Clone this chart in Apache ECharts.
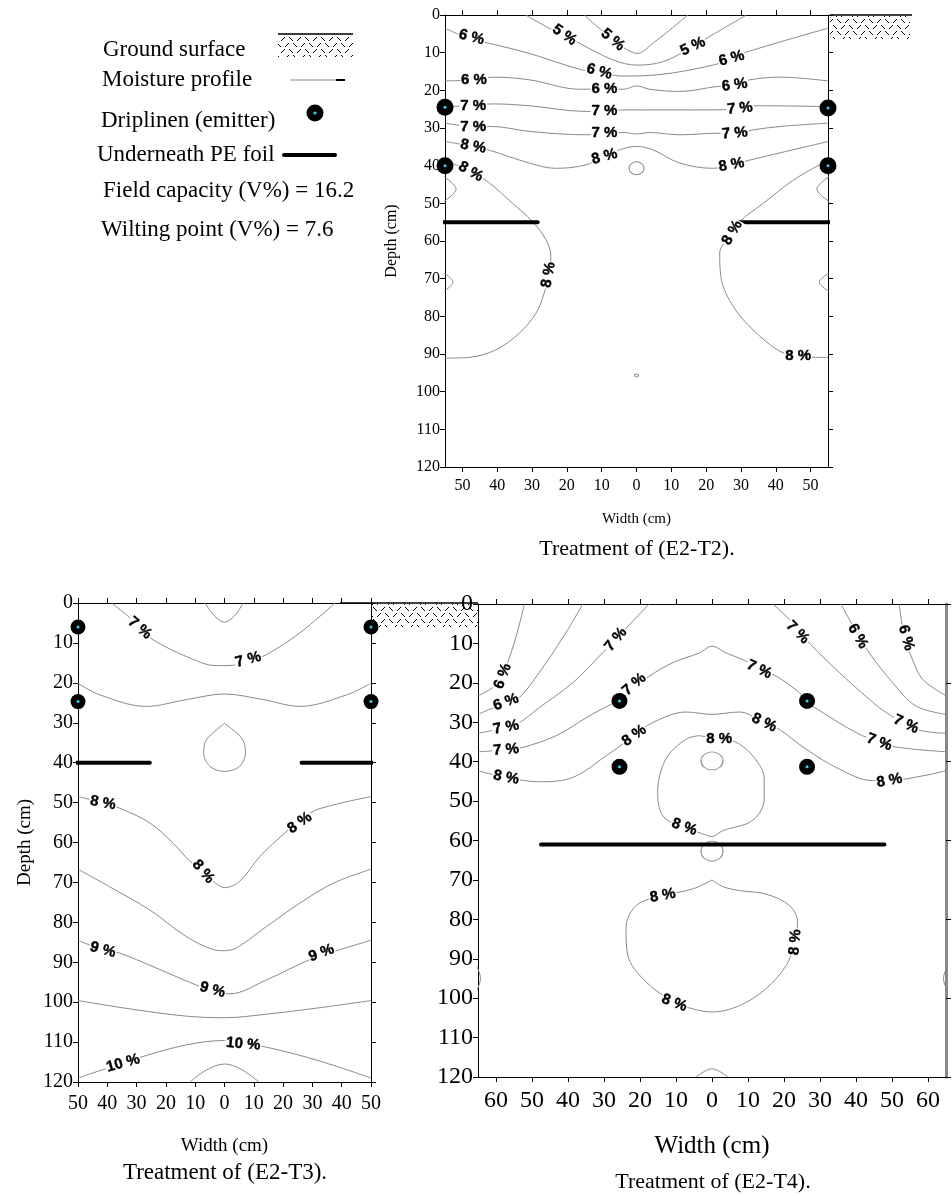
<!DOCTYPE html>
<html>
<head>
<meta charset="utf-8">
<script src="https://cdn.jsdelivr.net/npm/echarts@6/dist/echarts.min.js"></script>
<style>
  html, body { margin: 0; padding: 0; background: #fff; }
  #chart { width: 952px; height: 1196px; }
</style>
</head>
<body>
<div id="chart"></div>
<script>
// depth / width ticks
var depthTicks = [0, 10, 20, 30, 40, 50, 60, 70, 80, 90, 100, 110, 120];
var t2WidthTicks = [-50, -40, -30, -20, -10, 0, 10, 20, 30, 40, 50];
var t3WidthTicks = [-50, -40, -30, -20, -10, 0, 10, 20, 30, 40, 50];
var t4WidthTicks = [-60, -50, -40, -30, -20, -10, 0, 10, 20, 30, 40, 50, 60];

// ---- E2-T2 : moisture contours [width, depth]
var t2Lines = [
  [[-31.8, 0], [-25.1, 3.5], [-20.7, 5.3], [-16.4, 7.5], [-6.8, 11.9], [0, 13.3], [7.6, 12.4], [16.2, 8.4], [21.0, 5.7], [31.6, 0]],
  [[-15, 0], [-6.8, 6.6], [-2.5, 9.3], [0.2, 10.2], [4.7, 7.5], [14.8, 0]],
  [[-55, 3.5], [-47.4, 6.5], [-42.4, 7.5], [-30.8, 10.2], [-15.5, 14.6], [-10.7, 15.0], [-4.9, 16.2], [5.7, 15.9], [22.0, 13.3], [27.3, 11.5], [32.1, 9.7], [55, 3.5]],
  [[-55, 17.5], [-46.7, 17.2], [-41.4, 16.5], [-30.8, 17.2], [-16.4, 19.7], [-9.2, 19.7], [-3.5, 19.7], [0, 18.8], [3.7, 19.7], [12.4, 20.3], [23.0, 19.0], [28.2, 18.6], [32.6, 17.2], [41.2, 16.5], [55, 17.5]],
  [[-55, 24.3], [-46.9, 24.1], [-41.4, 23.6], [-30.8, 24.1], [-14.5, 25.6], [-9.2, 25.5], [-3.9, 25.2], [22.0, 25.2], [29.7, 24.8], [34.5, 24.1], [55, 24.3]],
  [[-55, 28.7], [-46.9, 29.6], [-41.4, 29.6], [-30.8, 30.9], [-14.5, 31.8], [-9.2, 31.4], [-3.5, 31.2], [0, 31.6], [3.7, 31.2], [12.4, 31.8], [23.0, 31.4], [28.2, 31.4], [33.5, 30.5], [41.2, 29.6], [55, 28.7]],
  [[-55, 33.6], [-46.9, 34.9], [-41.9, 36.0], [-30.8, 39.3], [-23.2, 40.7], [-14.5, 39.8], [-9.5, 37.6], [-4.9, 35.8], [0, 34.9], [4.7, 35.8], [12.4, 39.3], [22.0, 40.7], [27.3, 39.8], [32.6, 38.5], [55, 33.6]],
  [[-55, 38.5], [-47.6, 41.6], [-42.8, 44.2], [-35.6, 50.0], [-29.9, 54.8], [-26.0, 59.7], [-24.6, 64.1], [-25.3, 69.0], [-26.5, 73.8], [-28.9, 79.2], [-33.7, 84.5], [-40.4, 88.9], [-48.1, 90.9], [-55, 91.1]],
  [[55, 38.5], [45.1, 43.8], [36.4, 50.0], [29.7, 54.8], [26.5, 59.0], [23.9, 63.2], [24.4, 70.3], [27.8, 77.4], [33.5, 83.6], [41.2, 89.3], [46.4, 90.5], [50.8, 90.9], [55, 90.9]],
  [[-55.3, 42.9], [-51.8, 46.2], [-55.3, 49.5]],
  [[55.3, 42.9], [51.8, 46.2], [55.3, 49.5]],
  [[-55.3, 68.5], [-52.7, 70.9], [-55.3, 73.4]],
  [[55.3, 68.5], [52.5, 70.9], [55.3, 73.4]]
];
var t2Labels = [
  [-47.4, 5.9, '6 %', -15], [-20.7, 5.3, '5 %', -35], [-6.8, 6.6, '5 %', -40], [16.2, 8.4, '5 %', 25],
  [-10.7, 15.0, '6 %', -15], [27.3, 11.5, '6 %', 15],
  [-46.7, 17.1, '6 %', 0], [-9.2, 19.7, '6 %', 0], [28.2, 18.6, '6 %', 8],
  [-46.9, 24.1, '7 %', 0], [-9.2, 25.5, '7 %', 0], [29.7, 24.8, '7 %', 5],
  [-46.9, 29.6, '7 %', 0], [-9.2, 31.4, '7 %', 0], [28.2, 31.4, '7 %', 5],
  [-46.9, 34.9, '8 %', -10], [-9.2, 37.6, '8 %', 15], [27.3, 39.8, '8 %', 10],
  [-47.6, 41.6, '8 %', -30], [-25.3, 69.0, '8 %', 80], [27.5, 57.8, '8 %', 60], [46.4, 90.5, '8 %', 0]
];
var t2Loops = [[0, 40.7], [0, 95.7]];
var t2LoopSize = [[15, 13], [4, 3]];
var t2Emitters = [[-55, 24.5], [-55, 40], [55, 24.7], [55, 40]];
var t2Foil = [[[-81, 55], [-28.4, 55]], [[29, 55], [89.6, 55]]];

// ---- E2-T3
var t3Lines = [
  [[-38.6, 0], [-32.9, 3.3], [-28.9, 6.3], [-24.4, 9.2], [-13, 13.4], [-2.7, 15.7], [3, 15.6], [8.1, 14.6], [14.4, 12.9], [25.7, 7.5], [37.7, 0]],
  [[-6.7, 0], [-3.3, 3.3], [0, 4.8], [3.3, 3.3], [6.4, 0]],
  [[-50, 20.1], [-42.6, 23], [-26.7, 25.9], [-13, 24.2], [0, 22.8], [13.2, 24.2], [25.7, 25.9], [41.7, 23], [50, 20.1]],
  [[0, 30.2], [-6.2, 34.3], [-7.1, 37.6], [-5, 40.9], [0, 42.2], [5.2, 40.9], [7.2, 37.4], [5.8, 33.8], [0, 30.2]],
  [[-50, 48.5], [-41.5, 50.1], [-35.8, 51.4], [-25.5, 55.1], [-17.5, 60.2], [-11.8, 64.7], [-7.3, 67.3], [-3, 70.2], [0, 71.3], [5.2, 69.7], [12.1, 63.5], [20.6, 57.6], [25.7, 54.6], [31.4, 51.8], [50, 48.5]],
  [[-50, 66.7], [-39.2, 71.1], [-25.5, 76.9], [-13, 83.6], [-3.9, 86.8], [0, 87.1], [4.1, 86.4], [14.4, 81], [25.7, 75.2], [37.1, 70.2], [50, 66.7]],
  [[-50, 84.5], [-41.5, 86.9], [-35.8, 87.7], [-24.4, 91.1], [-9.6, 95.7], [-4.1, 96.9], [1.8, 97.9], [14.4, 94.4], [29.2, 89.3], [38.3, 87.1], [50, 84.5]],
  [[-50, 99.6], [-31.2, 101.8], [-13, 103.5], [0, 103.9], [14.4, 103], [31.4, 101.5], [50, 99.6]],
  [[-50, 119], [-40.3, 116.6], [-27.8, 113.6], [-13, 110.7], [0, 109.6], [13.2, 111.1], [31.4, 114.5], [50, 119]],
  [[-11.8, 120], [-6.2, 117], [0, 115.5], [5.2, 116.6], [11.8, 120]]
];
var t3Labels = [
  [-28.9, 6.3, '7 %', -40], [8.1, 14.2, '7 %', 15],
  [-41.5, 50.1, '8 %', -10], [-7.3, 67.3, '8 %', -50], [25.7, 55.1, '8 %', 35],
  [-41.5, 86.9, '9 %', -15], [-4.1, 96.9, '9 %', -15], [33.1, 87.7, '9 %', 20],
  [-34.6, 115.3, '10 %', 15], [6.4, 110.5, '10 %', -5]
];
var t3Emitters = [[-50, 6], [-50, 24.7], [50, 6], [50, 24.7]];
var t3Foil = [[[-74, 40], [-25.5, 40]], [[26.3, 40], [74.1, 40]]];

// ---- E2-T4
var t4Lines = [
  [[-52.1, 0], [-54.4, 8.2], [-56.8, 14.9], [-58.5, 18.5], [-60.9, 21.2], [-65, 23.3]],
  [[-35.9, 0], [-40.6, 7.3], [-48, 17.4], [-54, 24.2], [-57.2, 25.0], [-65, 28.0]],
  [[-17.4, 0], [-22.5, 4.8], [-26.7, 9.0], [-30.4, 12.4], [-38.7, 20.0], [-48, 26.3], [-53.5, 30.1], [-57.2, 31.3], [-65, 32.8]],
  [[-65, 37.5], [-57.2, 37.0], [-52.6, 36.4], [-43.3, 33.4], [-34.1, 28.4], [-25.7, 24.2], [-21.1, 21.2], [-17.4, 18.3], [-10.9, 14.9], [-3.5, 12.4], [0, 10.7], [3.9, 12.4], [9.4, 14.5], [13.1, 16.6], [17.8, 18.3], [24.3, 22.5], [26.1, 24.6], [30.7, 27.5], [40, 32.6], [46.5, 35.1], [52, 36.4], [65, 37.5]],
  [[16.9, 0], [22.4, 4.8], [27, 9.9], [35.4, 17.4], [43.7, 24.2], [48.3, 27.5], [53.9, 30.5], [58.5, 32.2], [65, 32.8]],
  [[35.8, 0], [40, 6.9], [43.7, 12.4], [50.2, 20.0], [56.7, 25.9], [65, 28.0]],
  [[52, 0], [53.4, 8.2], [55.7, 14.1], [58.5, 19.1], [65, 23.3]],
  [[-65, 42.3], [-57.2, 44.0], [-48, 45.1], [-38.7, 44.0], [-29.4, 38.5], [-21.6, 33.4], [-16.5, 30.1], [-7.2, 27.4], [0, 28.0], [7.6, 27.4], [14.5, 30.1], [18.7, 31.8], [26.1, 36.8], [35.4, 41.9], [44.6, 44.8], [49.3, 44.8], [58.5, 43.6], [65, 42.3]],
  [[-3.5, 33.4], [-7.2, 34.3], [-12.8, 39.3], [-15.1, 47.8], [-13.7, 53.7], [-9.1, 56.2], [-2.6, 58.3], [0, 59.0], [3, 57.5], [11.3, 54.9], [14.5, 49.5], [14.5, 44.4], [11.3, 38.5], [5.7, 34.7], [2.0, 34.3], [-3.5, 33.4]],
  [[0, 70], [-5.4, 72.3], [-13.7, 74.0], [-21.1, 76.5], [-23.9, 82.4], [-23.4, 89.1], [-18.3, 95.9], [-10.5, 101.0], [-5.4, 102.7], [0, 103.5], [7.6, 101.9], [15, 97.6], [20.6, 91.7], [22.4, 87.5], [23.8, 80.8], [21.5, 76.5], [15, 73.6], [7.6, 72.7], [3, 71.7], [0, 70]],
  [[-4.4, 120], [0, 117.9], [4.4, 120]],
  [[-65.3, 92], [-64.3, 95], [-65.3, 98]],
  [[65.3, 92], [64.3, 95], [65.3, 98]]
];
var t4Labels = [
  [-58.1, 18.3, '6 %', 70], [-57.2, 24.9, '6 %', 20], [-26.7, 9.0, '7 %', 50], [-57.2, 31.3, '7 %', 10],
  [-21.6, 20.4, '7 %', 40], [-57.2, 37.0, '7 %', 5], [-21.6, 33.4, '8 %', 35], [-57.2, 44.0, '8 %', -10],
  [2.0, 34.3, '8 %', 0], [-7.7, 56.6, '8 %', -20], [23.8, 7.2, '7 %', -45], [40.5, 8.2, '6 %', -60],
  [53.9, 8.6, '6 %', -75], [13.1, 16.6, '7 %', -25], [14.5, 30.1, '8 %', -25], [46.5, 35.1, '7 %', -20],
  [53.9, 30.5, '7 %', -25], [49.3, 44.8, '8 %', 10],
  [-13.7, 74.0, '8 %', 10], [23.1, 85.8, '8 %', 85], [-10.5, 101.2, '8 %', -20]
];
var t4Loops = [[0, 39.8], [0, 62.7]];
var t4LoopSize = [[22, 18], [22, 20]];
var t4Emitters = [[-25.7, 24.6], [-25.7, 41.3], [26.4, 24.6], [26.4, 41.3]];
var t4Foil = [[[-47.5, 61], [47.9, 61]]];

var GREY = '#8a8a8a';
var SERIF = '"Liberation Serif", "Times New Roman", serif';
var SANS = '"Liberation Sans", Arial, sans-serif';

function absLabel(v) { return String(Math.abs(v)); }

function xAxes(g, lim, ticks, fontSize, margin, nameGap, nameSize) {
  return [{
    gridIndex: g, type: 'value', min: -lim, max: lim, position: 'bottom',
    axisLine: { onZero: false, lineStyle: { color: '#000', width: 1 } },
    axisTick: { inside: false, length: 5, customValues: ticks, lineStyle: { color: '#000' } },
    axisLabel: { customValues: ticks, formatter: absLabel, margin: margin, fontSize: fontSize, fontFamily: SERIF, color: '#000' },
    splitLine: { show: false },
    name: 'Width (cm)', nameLocation: 'middle', nameGap: nameGap,
    nameTextStyle: { fontSize: nameSize, fontFamily: SERIF, color: '#000' }
  }, {
    gridIndex: g, type: 'value', min: -lim, max: lim, position: 'top',
    axisLine: { onZero: false, lineStyle: { color: '#000', width: 1 } },
    axisTick: { inside: false, length: 5, customValues: ticks, lineStyle: { color: '#000' } },
    axisLabel: { show: false }, splitLine: { show: false }
  }];
}

function yAxes(g, fontSize, margin, name, nameGap, nameSize, rightInterval, rightLine) {
  return [{
    gridIndex: g, type: 'value', min: 0, max: 120, interval: 10, inverse: true, position: 'left',
    axisLine: { onZero: false, lineStyle: { color: '#000', width: 1 } },
    axisTick: { inside: false, length: 5, lineStyle: { color: '#000' } },
    axisLabel: { margin: margin, fontSize: fontSize, fontFamily: SERIF, color: '#000' },
    splitLine: { show: false },
    name: name, nameLocation: 'middle', nameGap: nameGap,
    nameTextStyle: { fontSize: nameSize, fontFamily: SERIF, color: '#000' }
  }, {
    gridIndex: g, type: 'value', min: 0, max: 120, interval: rightInterval, inverse: true, position: 'right',
    axisLine: { onZero: false, lineStyle: rightLine },
    axisTick: { inside: false, length: 5, lineStyle: { color: '#000' } },
    axisLabel: { show: false }, splitLine: { show: false }
  }];
}

function panelSeries(g, lines, labels, loops, loopSize, emitters, foils, labelSize, emitterSize) {
  var s = [];
  lines.forEach(function (pts) {
    s.push({
      type: 'line', xAxisIndex: g * 2, yAxisIndex: g * 2, data: pts, smooth: 0.35,
      symbol: 'none', silent: true, z: 2, lineStyle: { color: GREY, width: 1 }
    });
  });
  if (loops.length) {
    s.push({
      type: 'scatter', xAxisIndex: g * 2, yAxisIndex: g * 2, silent: true, z: 2,
      data: loops.map(function (p, i) { return { value: p, symbolSize: loopSize[i] }; }),
      symbol: 'circle', itemStyle: { color: 'rgba(0,0,0,0)', borderColor: GREY, borderWidth: 1, opacity: 1 }
    });
  }
  foils.forEach(function (seg) {
    s.push({
      type: 'line', xAxisIndex: g * 2, yAxisIndex: g * 2, data: seg, clip: false,
      symbol: 'none', silent: true, z: 4, lineStyle: { color: '#000', width: 4, cap: 'round' }
    });
  });
  s.push({
    type: 'scatter', xAxisIndex: g * 2, yAxisIndex: g * 2, silent: true, z: 5, clip: false,
    symbolSize: 1, itemStyle: { color: 'rgba(0,0,0,0)', opacity: 1 },
    data: labels.map(function (l) {
      return { value: [l[0], l[1]], label: { formatter: l[2], rotate: l[3] } };
    }),
    label: {
      show: true, position: 'inside', color: '#000', fontWeight: 'bold', fontSize: labelSize,
      fontFamily: SANS, backgroundColor: '#fff', padding: [0, 1], opacity: 1,
      textBorderColor: '#000', textBorderWidth: 0.4
    }
  });
  s.push({
    type: 'scatter', xAxisIndex: g * 2, yAxisIndex: g * 2, silent: true, z: 6, clip: false,
    data: emitters, symbol: 'circle', symbolSize: emitterSize, itemStyle: { color: '#000', opacity: 1 }
  });
  s.push({
    type: 'scatter', xAxisIndex: g * 2, yAxisIndex: g * 2, silent: true, z: 7, clip: false,
    data: emitters, symbol: 'circle', symbolSize: 3, itemStyle: { color: '#33d6e0', opacity: 1 }
  });
  return s;
}

function hatch() {
  var c = document.createElement('canvas');
  c.width = 16; c.height = 12;
  var ctx = c.getContext('2d');
  ctx.strokeStyle = '#000';
  ctx.lineWidth = 1;
  ctx.beginPath();
  ctx.moveTo(1, 1); ctx.lineTo(5, 5);
  ctx.moveTo(9, 5); ctx.lineTo(13, 1);
  ctx.moveTo(5, 7); ctx.lineTo(9, 11);
  ctx.moveTo(13, 11); ctx.lineTo(16, 8);
  ctx.moveTo(0, 8); ctx.lineTo(1, 7);
  ctx.stroke();
  return { image: c, repeat: 'repeat' };
}

function txt(x, y, s, size, align) {
  return {
    type: 'text', x: x, y: y, silent: true,
    style: {
      text: s, fontSize: size, fontFamily: SERIF, fill: '#000',
      align: align || 'left', textAlign: align || 'left', verticalAlign: 'middle', textVerticalAlign: 'middle'
    }
  };
}

var pattern = hatch();

var chart = echarts.init(document.getElementById('chart'));
chart.setOption({
  animation: false,
  backgroundColor: '#fff',
  grid: [
    { left: 445, top: 15, width: 383, height: 452 },
    { left: 78, top: 603, width: 293, height: 479 },
    { left: 478, top: 604, width: 468, height: 473 }
  ],
  xAxis: []
    .concat(xAxes(0, 55, t2WidthTicks, 16, 11, 45, 15))
    .concat(xAxes(1, 50, t3WidthTicks, 20, 12, 55, 19))
    .concat(xAxes(2, 65, t4WidthTicks, 24, 12, 57, 25)),
  yAxis: []
    .concat(yAxes(0, 16, 5, 'Depth (cm)', 45, 16, 10, { color: '#000', width: 1 }))
    .concat(yAxes(1, 20, 5, 'Depth (cm)', 43, 19, 10, { color: '#000', width: 1 }))
    .concat(yAxes(2, 24, 5, '', 40, 19, 20, { color: '#888', width: 3 })),
  series: []
    .concat(panelSeries(0, t2Lines, t2Labels, t2Loops, t2LoopSize, t2Emitters, t2Foil, 15, 17))
    .concat(panelSeries(1, t3Lines, t3Labels, [], [], t3Emitters, t3Foil, 15, 15))
    .concat(panelSeries(2, t4Lines, t4Labels, t4Loops, t4LoopSize, t4Emitters, t4Foil, 15, 16)),
  graphic: [
    // ground surface hatches
    { type: 'rect', silent: true, shape: { x: 278, y: 35, width: 75, height: 22 }, style: { fill: pattern } },
    { type: 'line', silent: true, shape: { x1: 278, y1: 34, x2: 353, y2: 34 }, style: { stroke: '#000', lineWidth: 1.5 } },
    { type: 'rect', silent: true, shape: { x: 830, y: 16, width: 80, height: 23 }, style: { fill: pattern } },
    { type: 'line', silent: true, shape: { x1: 830, y1: 15, x2: 912, y2: 15 }, style: { stroke: '#000', lineWidth: 1.5 } },
    { type: 'rect', silent: true, z: -1, shape: { x: 372, y: 604, width: 106, height: 23 }, style: { fill: pattern } },
    { type: 'line', silent: true, shape: { x1: 340, y1: 603, x2: 478, y2: 603 }, style: { stroke: '#000', lineWidth: 1.5 } },
    // legend
    txt(103, 50, 'Ground surface', 23),
    txt(102, 80, 'Moisture profile', 23),
    { type: 'line', silent: true, shape: { x1: 290, y1: 80, x2: 337, y2: 80 }, style: { stroke: GREY, lineWidth: 1.2 } },
    { type: 'line', silent: true, shape: { x1: 336, y1: 80, x2: 345, y2: 80 }, style: { stroke: '#000', lineWidth: 2 } },
    txt(101, 121, 'Driplinen (emitter)', 23),
    { type: 'circle', silent: true, shape: { cx: 315, cy: 113, r: 8.5 }, style: { fill: '#000' } },
    { type: 'circle', silent: true, shape: { cx: 315, cy: 113, r: 1.6 }, style: { fill: '#33d6e0' } },
    txt(97, 155, 'Underneath PE foil', 23),
    { type: 'line', silent: true, shape: { x1: 284, y1: 155, x2: 335, y2: 155 }, style: { stroke: '#000', lineWidth: 4, lineCap: 'round' } },
    txt(103, 191, 'Field capacity (V%) = 16.2', 23),
    txt(101, 230, 'Wilting point (V%) = 7.6', 23),
    // treatment captions
    txt(637, 549, 'Treatment of (E2-T2).', 22, 'center'),
    txt(225, 1173, 'Treatment of (E2-T3).', 23, 'center'),
    txt(713, 1182, 'Treatment of (E2-T4).', 22, 'center')
  ]
});
</script>
</body>
</html>
